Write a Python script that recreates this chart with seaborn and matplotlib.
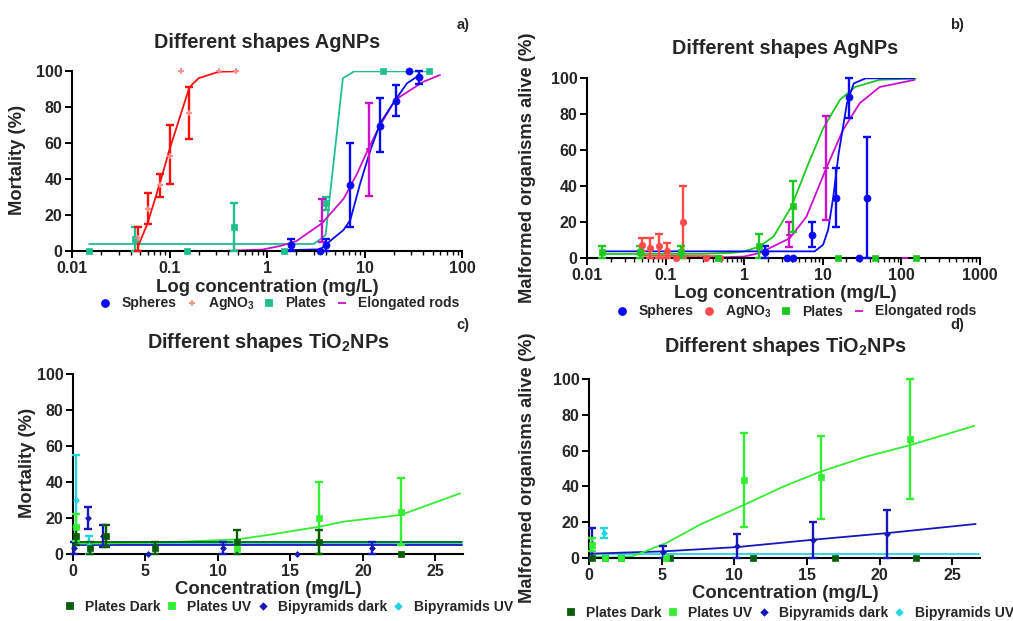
import matplotlib
matplotlib.use('Agg')
import matplotlib.pyplot as plt
import numpy as np
import seaborn as sns
from matplotlib.lines import Line2D
from matplotlib.ticker import FixedLocator, LogLocator, NullFormatter

# ---------------- panel a: mortality, AgNPs ----------------
a_sph_x = [1.77, 3.52, 4.06, 7.1, 14.3, 21.2, 28.3, 35.9]
a_sph_y = [3.3, 0, 3.3, 36.7, 69.6, 83.3, 100, 96.5]
a_sph_lo = [0, 0, 0, 13.3, 55, 75, 100, 93]
a_sph_hi = [6.7, 0, 6.7, 60, 85, 92, 100, 100]
a_sph_fx = [1.6, 3.52, 4.03, 6.1, 7.15, 9.06, 11.5, 14.5, 20.7, 27.3, 34.5, 37.6]
a_sph_fy = [0.5, 0.9, 3.7, 11.7, 17.2, 37.8, 56, 71, 83.9, 93.2, 96.8, 97.8]

a_agn_x = [0.048, 0.06, 0.0805, 0.102, 0.16, 0.13, 0.32, 0.48]
a_agn_y = [7, 23.5, 36.7, 53, 76.5, 100, 100, 100]
a_agn_lo = [0, 15, 30, 37, 62, 100, 100, 100]
a_agn_hi = [13.3, 32, 43, 70, 91, 100, 100, 100]
a_agn_fx = [0.048, 0.0596, 0.0805, 0.0996, 0.16, 0.199, 0.32, 0.49]
a_agn_fy = [3, 15.4, 38.5, 56, 91, 96, 99.6, 99.8]

a_pla_x = [0.015, 0.0446, 0.151, 0.455, 1.5, 4.06, 15.4, 45.5]
a_pla_y = [0, 6.7, 0, 13.1, 0, 26.5, 100, 100]
a_pla_lo = [0, 0, 0, 0, 0, 23, 100, 100]
a_pla_hi = [0, 13.3, 0, 26.7, 0, 30, 100, 100]
a_pla_fx = [0.015, 3.03, 3.99, 6.0, 7.85, 45.5]
a_pla_fy = [3.9, 3.9, 8.9, 96, 99.8, 99.8]

a_rod_x = [3.66, 11.0]
a_rod_y = [16.7, 56.7]
a_rod_lo = [5, 30.6]
a_rod_hi = [28.7, 82.4]
a_rod_fx = [0.35, 0.9, 1.37, 2.0, 3.66, 6.1, 8.4, 11.0, 14.5, 20.7, 40, 59.6]
a_rod_fy = [0, 0.8, 2.8, 5.5, 15.4, 29, 43, 57, 70, 84, 94, 97.8]

# ---------------- panel b: malformed, AgNPs ----------------
b_sph_x = [1.84, 3.53, 4.13, 7.2, 14.6, 21.8, 29.2, 36.2]
b_sph_y = [3.3, 0, 0, 13, 33.3, 89.3, 0, 33.3]
b_sph_lo = [0, 0, 0, 6, 17, 78, 0, 0]
b_sph_hi = [6.7, 0, 0, 20, 50, 100, 0, 67]
b_sph_fx = [0.0157, 7.9, 10.1, 11.7, 13.6, 15.9, 20.3, 24.8, 35, 144]
b_sph_fy = [3.7, 3.7, 7.4, 15.7, 34, 58, 86, 97, 99.8, 99.8]

b_agn_x = [0.050, 0.063, 0.0826, 0.1045, 0.134, 0.167, 0.33, 0.49]
b_agn_y = [7.4, 5.6, 6.5, 3.7, 0, 20, 0, 0]
b_agn_lo = [3.7, 0, 0, 0, 0, 0, 0, 0]
b_agn_hi = [11.1, 11.1, 13.3, 8.3, 0, 40, 0, 0]
b_agn_fx = [0.048, 0.49]
b_agn_fy = [1.3, 1.0]

b_pla_x = [0.0157, 0.047, 0.155, 0.467, 1.55, 4.13, 15.5, 46, 152]
b_pla_y = [3.3, 3.3, 3.3, 0, 6.7, 28.7, 0, 0, 0]
b_pla_lo = [0, 0, 0, 0, 0, 14.3, 0, 0, 0]
b_pla_hi = [6.7, 6.7, 6.7, 0, 13.3, 43, 0, 0, 0]
b_pla_fx = [0.0157, 0.3, 0.7, 1.0, 1.58, 2.37, 4.0, 6.5, 10.1, 16.6, 25.7, 53, 152]
b_pla_fy = [2.2, 2.3, 2.9, 3.6, 6.5, 12, 28.7, 52, 72, 88, 95, 99, 99.8]

b_rod_x = [0.33, 0.47, 3.74, 10.9, 111]
b_rod_y = [0, 0, 13, 50, 0]
b_rod_lo = [0, 0, 6, 21, 0]
b_rod_hi = [0, 0, 20, 79, 0]
b_rod_fx = [0.3, 1.0, 1.58, 3.8, 6.2, 11.1, 18, 29.5, 53, 148]
b_rod_fy = [0, 0.8, 2.8, 11, 23, 50, 71, 86, 95, 99]

# ---------------- panel c: mortality, TiO2NPs ----------------
c_pd_x = [0.23, 1.15, 2.3, 5.63, 11.3, 16.98, 22.6]
c_pd_y = [10, 3.3, 10, 3.3, 6.7, 6.7, 0]
c_pd_lo = [5, 0, 4, 0, 0, 0, 0]
c_pd_hi = [15, 6.7, 16, 6.7, 13.3, 13.3, 0]
c_pd_fx = [0, 26.8]
c_pd_fy = [6.5, 6.5]

c_pu_x = [0.23, 11.3, 16.98, 22.6]
c_pu_y = [15, 3.3, 20, 23.3]
c_pu_lo = [7, 0, 0, 5]
c_pu_hi = [22, 6.7, 40, 42]
c_pu_fx = [0, 2.3, 6.5, 11.3, 13.4, 17, 18.7, 22.6, 26.7]
c_pu_fy = [5.8, 5.9, 6.5, 8.1, 10.5, 15.2, 18, 21.7, 33.7]

c_bd_x = [0.05, 1.03, 2.07, 5.15, 10.35, 15.46, 20.6]
c_bd_y = [3.3, 20, 10, 0, 3.3, 0, 3.3]
c_bd_lo = [0, 14, 4, 0, 0, 0, 0]
c_bd_hi = [6.7, 26, 16, 0, 6.7, 0, 6.7]
c_bd_fx = [0, 26.8]
c_bd_fy = [5, 5]

c_bu_x = [0.23, 1.08]
c_bu_y = [30, 5]
c_bu_lo = [5, 0]
c_bu_hi = [55, 10]
c_bu_fx = [0, 26.8]
c_bu_fy = [5.6, 5.6]

# ---------------- panel d: malformed, TiO2NPs ----------------
d_pd_x = [0.23, 1.08, 2.23, 5.56, 11.26, 16.9, 22.5]
d_pd_y = [0, 0, 0, 0, 0, 0, 0]
d_pd_fx = [0, 26.8]
d_pd_fy = [0, 0]

d_pu_x = [0.23, 1.08, 2.2, 5.33, 10.67, 15.95, 22.07]
d_pu_y = [7.4, 0, 0, 0, 43.3, 45, 66.7]
d_pu_lo = [3.7, 0, 0, 0, 17.3, 21.9, 33]
d_pu_hi = [11, 0, 0, 0, 69.7, 68.2, 100]
d_pu_fx = [0.23, 1.5, 3.0, 5.33, 7.63, 10.67, 13.4, 15.95, 19.1, 22.07, 26.5]
d_pu_fy = [1, 0.2, 1, 8.4, 18.6, 29.7, 40, 48.3, 56.7, 63, 73.8]

d_bd_x = [0.23, 5.1, 10.2, 15.38, 20.5]
d_bd_y = [8, 3.3, 6.7, 10, 13.3]
d_bd_lo = [0, 0, 0, 0, 0]
d_bd_hi = [16.6, 6.7, 13.3, 20, 26.7]
d_bd_fx = [0, 5.1, 10.2, 15.4, 20.5, 26.6]
d_bd_fy = [2.4, 3.7, 6.1, 10.2, 13.9, 19]

d_bu_x = [1.01]
d_bu_y = [14]
d_bu_lo = [11]
d_bu_hi = [17]
d_bu_fx = [0, 26.8]
d_bu_fy = [2.2, 2.2]

# colours
BLUE = '#0a0af0'
RED = '#ff1010'
PINK = '#ff8a8a'
TEAL = '#1fbf8f'
GREEN = '#1ec81e'
SALMON = '#ff4a4a'
MAGENTA = '#cc10cc'
DKGREEN = '#0b5d0b'
LTGREEN = '#33ee33'
NAVY = '#1818b8'
CYAN = '#22d3e0'

sns.set_theme(style='ticks')
plt.rcParams['font.family'] = ['Liberation Sans', 'DejaVu Sans']
plt.rcParams['font.weight'] = 'bold'
plt.rcParams['axes.labelweight'] = 'bold'
plt.rcParams['mathtext.default'] = 'regular'


def draw(ax, x, y, lo=None, hi=None, fx=None, fy=None, color='k', marker='o',
         s=22, mcolor=None, lw=1.3):
    """Fit curve, error bars and points for one series."""
    if fx is not None:
        sns.lineplot(x=fx, y=fy, color=color, lw=lw, ax=ax, sort=False,
                     estimator=None, zorder=2)
    x, y = np.asarray(x, float), np.asarray(y, float)
    if lo is not None:
        lo, hi = np.asarray(lo, float), np.asarray(hi, float)
        m = hi > lo
        ax.errorbar(x[m], y[m], yerr=[y[m] - lo[m], hi[m] - y[m]], fmt='none',
                    ecolor=color, elinewidth=1.7, capsize=2.8, capthick=1.7,
                    clip_on=False, zorder=3)
    mc = mcolor or color
    if marker in ('+', '_'):
        sns.scatterplot(x=x, y=y, marker=marker, s=s, color=mc, linewidth=1.3,
                        ax=ax, clip_on=False, zorder=4, legend=False)
    else:
        sns.scatterplot(x=x, y=y, marker=marker, s=s, color=mc, edgecolor=mc,
                        linewidth=0.5, ax=ax, clip_on=False, zorder=4, legend=False)


def style(ax, log=False, xmax=None):
    for side in ('left', 'bottom'):
        ax.spines[side].set_linewidth(1.5)
        ax.spines[side].set_color('black')
    sns.despine(ax=ax)
    ax.set_ylim(0, 100)
    ax.set_yticks([0, 20, 40, 60, 80, 100])
    ax.tick_params(axis='both', which='major', direction='out', length=5,
                   width=1.4, labelsize=11.5, color='black', pad=2)
    ax.tick_params(axis='x', which='minor', direction='out', length=3,
                   width=1.0, color='black')
    if log:
        ax.set_xscale('log')
        ticks = [10.0 ** k for k in range(-2, int(np.log10(xmax)) + 1)]
        ax.set_xlim(0.01, xmax)
        ax.xaxis.set_major_locator(FixedLocator(ticks))
        ax.set_xticklabels([('%g' % t) for t in ticks])
        ax.xaxis.set_minor_locator(LogLocator(base=10, subs=np.arange(2, 10)))
        ax.xaxis.set_minor_formatter(NullFormatter())
    else:
        ax.set_xlim(0, xmax)
        ax.set_xticks([0, 5, 10, 15, 20, 25])
    for lab in ax.get_xticklabels() + ax.get_yticklabels():
        lab.set_fontweight('bold')
    ax.set_xlabel('')
    ax.set_ylabel('')


W, H = 1013, 621
fig = plt.figure(figsize=(W / 100, H / 100), dpi=100)


def box(l, t, r, b):
    return [l / W, 1 - b / H, (r - l) / W, (b - t) / H]


ax_a = fig.add_axes(box(72, 71, 462, 251))
ax_b = fig.add_axes(box(587, 78, 980, 258))
ax_c = fig.add_axes(box(73, 374, 463, 554))
ax_d = fig.add_axes(box(589, 379, 980, 558))

# panel a
ax_a.set_xscale('log')
draw(ax_a, a_pla_x, a_pla_y, a_pla_lo, a_pla_hi, a_pla_fx, a_pla_fy, TEAL, 's', 22)
draw(ax_a, a_rod_x, a_rod_y, a_rod_lo, a_rod_hi, a_rod_fx, a_rod_fy, MAGENTA, '_', 25)
draw(ax_a, a_agn_x, a_agn_y, a_agn_lo, a_agn_hi, a_agn_fx, a_agn_fy, RED, '+', 25, mcolor=PINK)
draw(ax_a, a_sph_x, a_sph_y, a_sph_lo, a_sph_hi, a_sph_fx, a_sph_fy, BLUE, 'o', 26)
style(ax_a, log=True, xmax=100)

# panel b
ax_b.set_xscale('log')
draw(ax_b, b_rod_x, b_rod_y, b_rod_lo, b_rod_hi, b_rod_fx, b_rod_fy, MAGENTA, '_', 25)
draw(ax_b, b_agn_x, b_agn_y, b_agn_lo, b_agn_hi, b_agn_fx, b_agn_fy, SALMON, 'o', 22)
draw(ax_b, b_pla_x, b_pla_y, b_pla_lo, b_pla_hi, b_pla_fx, b_pla_fy, GREEN, 's', 22)
draw(ax_b, b_sph_x, b_sph_y, b_sph_lo, b_sph_hi, b_sph_fx, b_sph_fy, BLUE, 'o', 26)
style(ax_b, log=True, xmax=1000)

# panel c
draw(ax_c, c_bu_x, c_bu_y, c_bu_lo, c_bu_hi, c_bu_fx, c_bu_fy, CYAN, 'D', 9)
draw(ax_c, c_bd_x, c_bd_y, c_bd_lo, c_bd_hi, c_bd_fx, c_bd_fy, NAVY, 'D', 9)
draw(ax_c, c_pu_x, c_pu_y, c_pu_lo, c_pu_hi, c_pu_fx, c_pu_fy, LTGREEN, 's', 24)
draw(ax_c, c_pd_x, c_pd_y, c_pd_lo, c_pd_hi, c_pd_fx, c_pd_fy, DKGREEN, 's', 24)
style(ax_c, xmax=26.9)

# panel d
draw(ax_d, d_pd_x, d_pd_y, None, None, d_pd_fx, d_pd_fy, DKGREEN, 's', 24)
draw(ax_d, d_bu_x, d_bu_y, d_bu_lo, d_bu_hi, d_bu_fx, d_bu_fy, CYAN, 'D', 9)
draw(ax_d, d_bd_x, d_bd_y, d_bd_lo, d_bd_hi, d_bd_fx, d_bd_fy, NAVY, 'D', 9)
draw(ax_d, d_pu_x, d_pu_y, d_pu_lo, d_pu_hi, d_pu_fx, d_pu_fy, LTGREEN, 's', 24)
style(ax_d, xmax=26.9)


def ftext(x, y, s, size, **kw):
    fig.text(x / W, 1 - y / H, s, fontsize=size, fontweight='bold',
             ha=kw.pop('ha', 'center'), va=kw.pop('va', 'center'), **kw)


# titles, axis labels, panel letters
ftext(267, 43, 'Different shapes AgNPs', 14.3)
ftext(785, 48, 'Different shapes AgNPs', 14.3)
ftext(268, 342, 'Different shapes TiO$_2$NPs', 14.3)
ftext(785, 347, 'Different shapes TiO$_2$NPs', 14.3)
ftext(267, 287, 'Log concentration (mg/L)', 13.3)
ftext(785, 293, 'Log concentration (mg/L)', 13.3)
ftext(268, 589, 'Concentration (mg/L)', 13.3)
ftext(785, 593, 'Concentration (mg/L)', 13.3)
ftext(18, 160, 'Mortality (%)', 13.2, rotation=90)
ftext(527, 168, 'Malformed organisms alive (%)', 13.2, rotation=90)
ftext(27, 463, 'Mortality (%)', 13.2, rotation=90)
ftext(527, 468, 'Malformed organisms alive (%)', 13.2, rotation=90)
ftext(463, 25, 'a)', 10.5)
ftext(957, 25, 'b)', 10.5)
ftext(463, 325, 'c)', 10.5)
ftext(957, 325, 'd)', 10.5)


def handle(marker, color, ms):
    return Line2D([], [], ls='none', marker=marker, color=color,
                  markersize=ms, markeredgewidth=1.3)


ag_leg = dict(loc='center', ncol=4, frameon=False, handlelength=1.2,
              handletextpad=0.55, columnspacing=0.5, borderaxespad=0,
              borderpad=0, prop={'weight': 'bold', 'size': 10})
ti_leg = dict(ag_leg, handlelength=1.0, handletextpad=0.6, columnspacing=0.3)

fig.legend([handle('o', BLUE, 5), handle('+', PINK, 5), handle('s', TEAL, 5),
            handle('_', MAGENTA, 6)],
           ['Spheres', 'AgNO$_3$', 'Plates', 'Elongated rods'],
           bbox_to_anchor=(278 / W, 1 - 304 / H), **ag_leg)
fig.legend([handle('o', BLUE, 5), handle('o', SALMON, 5), handle('s', GREEN, 5),
            handle('_', MAGENTA, 6)],
           ['Spheres', 'AgNO$_3$', 'Plates', 'Elongated rods'],
           bbox_to_anchor=(795 / W, 1 - 312 / H), **ag_leg)
fig.legend([handle('s', DKGREEN, 5), handle('s', LTGREEN, 5), handle('D', NAVY, 3),
            handle('D', CYAN, 3)],
           ['Plates Dark', 'Plates UV', 'Bipyramids dark', 'Bipyramids UV'],
           bbox_to_anchor=(288 / W, 1 - 607 / H), **ti_leg)
fig.legend([handle('s', DKGREEN, 5), handle('s', LTGREEN, 5), handle('D', NAVY, 3),
            handle('D', CYAN, 3)],
           ['Plates Dark', 'Plates UV', 'Bipyramids dark', 'Bipyramids UV'],
           bbox_to_anchor=(789 / W, 1 - 613 / H), **ti_leg)

fig.savefig('out.png', dpi=100, facecolor='white')
